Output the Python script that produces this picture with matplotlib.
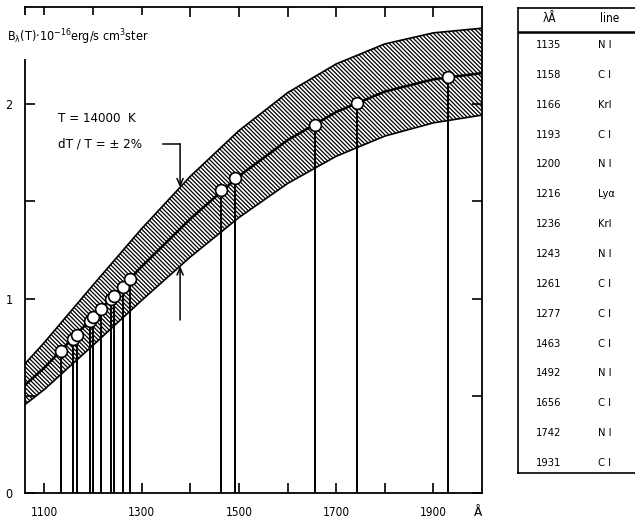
import matplotlib
matplotlib.use('Agg')
import matplotlib.pyplot as plt
import numpy as np

# blackbody band (units of 1e16 erg/s cm^3 ster)
wl_grid = [1060, 1100, 1200, 1300, 1400, 1500, 1600, 1700, 1800, 1900, 2000]
b_center = [0.555, 0.645, 0.905, 1.165, 1.410, 1.630, 1.815, 1.960, 2.065, 2.128, 2.160]
b_upper = [0.665, 0.775, 1.070, 1.360, 1.629, 1.864, 2.059, 2.207, 2.310, 2.367, 2.391]
b_lower = [0.455, 0.533, 0.760, 0.991, 1.214, 1.417, 1.592, 1.732, 1.836, 1.904, 1.944]

# calibration lines
line_wl = [1135, 1158, 1166, 1193, 1200, 1216, 1236, 1243, 1261, 1277, 1463, 1492, 1656, 1742, 1931]
line_name = ['N I', 'C I', 'KrI', 'C I', 'N I', 'Lyα', 'KrI', 'N I', 'C I', 'C I',
             'C I', 'N I', 'C I', 'N I', 'C I']
line_b = [0.733, 0.792, 0.815, 0.885, 0.903, 0.944, 0.997, 1.015, 1.062, 1.103,
          1.560, 1.618, 1.895, 2.004, 2.138]

xticks_major = [1100, 1300, 1500, 1700, 1900]
xticks_minor = [1200, 1400, 1600, 1800]

plt.rcParams['font.family'] = ['DejaVu Sans']
plt.rcParams['font.stretch'] = 'condensed'
plt.rcParams['hatch.linewidth'] = 0.9

fig = plt.figure(figsize=(6.35, 5.23), dpi=100)
ax = fig.add_axes([25/635, 1-493/523, 457/635, 486/523])
ax.set_xlim(1060, 2000)
ax.set_ylim(0, 2.5)

ax.fill_between(wl_grid, b_lower, b_upper, facecolor='white', edgecolor='black',
                hatch='\\' * 8, linewidth=0, zorder=1)
ax.plot(wl_grid, b_upper, color='black', lw=1.2, zorder=2)
ax.plot(wl_grid, b_lower, color='black', lw=1.2, zorder=2)
ax.plot(wl_grid, b_center, color='black', lw=1.8, zorder=2)

ax.vlines(line_wl, 0, line_b, color='black', lw=1.4, zorder=3)
ax.plot(line_wl, line_b, 'o', ms=8.5, mfc='white', mec='black', mew=1.2, zorder=4)

for s in ax.spines.values():
    s.set_linewidth(1.3)
ax.set_xticks(xticks_major)
ax.set_xticks(xticks_minor, minor=True)
ax.set_yticks([0, 1, 2])
ax.set_yticks([0.5, 1.5], minor=True)
ax.tick_params(which='both', direction='in', length=7, width=1.2, top=True, right=True)
ax.tick_params(axis='x', labelsize=8.5, pad=9)
ax.tick_params(axis='y', labelsize=9, pad=9)

ax.text(-0.039, 0.938,
        r'B$_{\mathregular{λ}}$(T)$\cdot$10$^{\mathregular{-16}}$erg/s cm$^{\mathregular{3}}$ster',
        transform=ax.transAxes, ha='left', va='center', fontsize=9,
        bbox=dict(boxstyle='square,pad=1.0', fc='white', ec='none'), zorder=6)

ax.text(1128, 1.929, 'T = 14000  K', fontsize=9.5, ha='left', va='center')
ax.text(1128, 1.795, 'dT / T = ± 2%', fontsize=9.5, ha='left', va='center')

# callout arrows onto the band edges
ax_x = 1379
up_tip = np.interp(ax_x, wl_grid, b_upper)
lo_tip = np.interp(ax_x, wl_grid, b_lower)
ax.plot([1344, ax_x], [1.795, 1.795], color='black', lw=1.1)
ax.annotate('', xy=(ax_x, up_tip), xytext=(ax_x, 1.795),
            arrowprops=dict(arrowstyle='->,head_length=0.5,head_width=0.22',
                            lw=1.1, color='black', shrinkA=0, shrinkB=0))
ax.annotate('', xy=(ax_x, lo_tip), xytext=(ax_x, 0.89),
            arrowprops=dict(arrowstyle='->,head_length=0.5,head_width=0.22',
                            lw=1.1, color='black', shrinkA=0, shrinkB=0))

fig.text(478/635, 1-512/523, 'Å', fontsize=9.5, ha='center', va='center')

# table of lines
tab = fig.add_axes([518/635, 1-473/523, 200/635, 465/523])
tab.set_xlim(518, 718)
tab.set_ylim(473, 8)
tab.set_xticks([])
tab.set_yticks([])
tab.patch.set_alpha(0)
tab.spines['right'].set_visible(False)
for k in ['left', 'top', 'bottom']:
    tab.spines[k].set_linewidth(1.2)
tab.axhline(32, color='black', lw=1.8)
tab.text(549, 19, 'λÅ', fontsize=8.5, ha='center', va='center')
tab.text(610, 19, 'line', fontsize=8.5, ha='center', va='center')
for i, (w, n) in enumerate(zip(line_wl, line_name)):
    yy = 45 + i * 29.86
    tab.text(549, yy, str(w), fontsize=8, ha='center', va='center')
    tab.text(598, yy, n, fontsize=8, ha='left', va='center')

fig.savefig('out.png', dpi=100)
